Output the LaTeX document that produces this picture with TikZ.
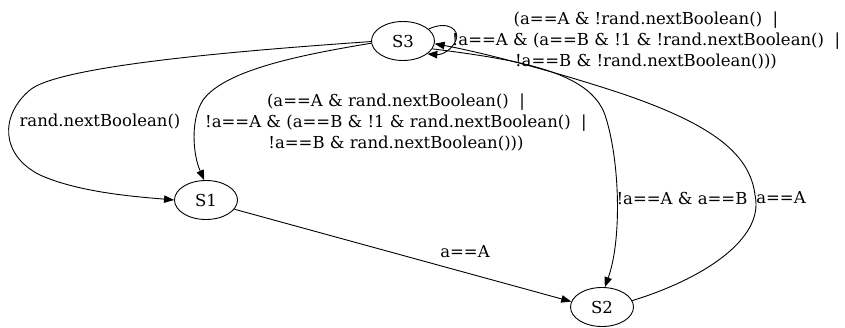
\documentclass[tikz,border=0pt]{standalone}
\usepackage{fontspec}
\setmainfont{DejaVu Serif}
\usetikzlibrary{arrows.meta,shapes.geometric}
\begin{document}
\begin{tikzpicture}[x=1pt,y=-1pt,
  state/.style={draw,line width=0.9pt,ellipse,minimum width=63pt,minimum height=39pt,inner sep=0pt,font=\fontsize{16.5}{20}\selectfont},
  edge/.style={draw,line width=0.9pt,-{Triangle[length=10pt,width=7.5pt]}},
  lbl/.style={font=\fontsize{16.5}{21}\selectfont,align=center,inner sep=0pt}]
\useasboundingbox (0,0) rectangle (845,328);
\node[state] (S3) at (403,41) {S3};
\node[state] (S1) at (206,200) {S1};
\node[state] (S2) at (602,307) {S2};
% S3 -> S1, outer arc on the left
\draw[edge] (S3.181) .. controls (250,50) and (60,65) .. (30,90)
  .. controls (0,115) and (0,155) .. (40,175)
  .. controls (80,193) and (140,197) .. (S1.180);
\node[lbl] (l1) at (100,122) {rand.nextBoolean()};
% S3 -> S1, inner arc
\draw[edge] (S3.184) .. controls (300,55) and (225,70) .. (203,100)
  .. controls (190,120) and (193,155) .. (S1.95);
\node[lbl] (l2) at (396,122) {(a==A \& rand.nextBoolean()\ \ |\\!a==A \& (a==B \& !1 \& rand.nextBoolean()\ \ |\\!a==B \& rand.nextBoolean()))};
% S1 -> S2
\draw[edge] (S1.-18) -- (S2.170);
\node[lbl] (l3) at (465,252) {a==A};
% S3 -> S2
\draw[edge] (S3.-15) .. controls (520,60) and (590,72) .. (605,115)
  .. controls (620,160) and (622,240) .. (S2.82);
\node[lbl] (l4) at (682,198) {!a==A \& a==B};
% S2 -> S3
\draw[edge] (S2.12) .. controls (700,280) and (765,240) .. (755,195)
  .. controls (750,155) and (715,125) .. (620,93)
  .. controls (550,70) and (480,52) .. (S3.-5);
\node[lbl] (l5) at (781,198) {a==A};
% self loop on S3
\draw[edge] (S3.25) .. controls (448,20) and (460,30) .. (456,40)
  .. controls (452,50) and (442,55) .. (S3.-28);
\node[lbl] (l6) at (646,40) {(a==A \& !rand.nextBoolean()\ \ |\\!a==A \& (a==B \& !1 \& !rand.nextBoolean()\ \ |\\!a==B \& !rand.nextBoolean()))};
\end{tikzpicture}
\end{document}
